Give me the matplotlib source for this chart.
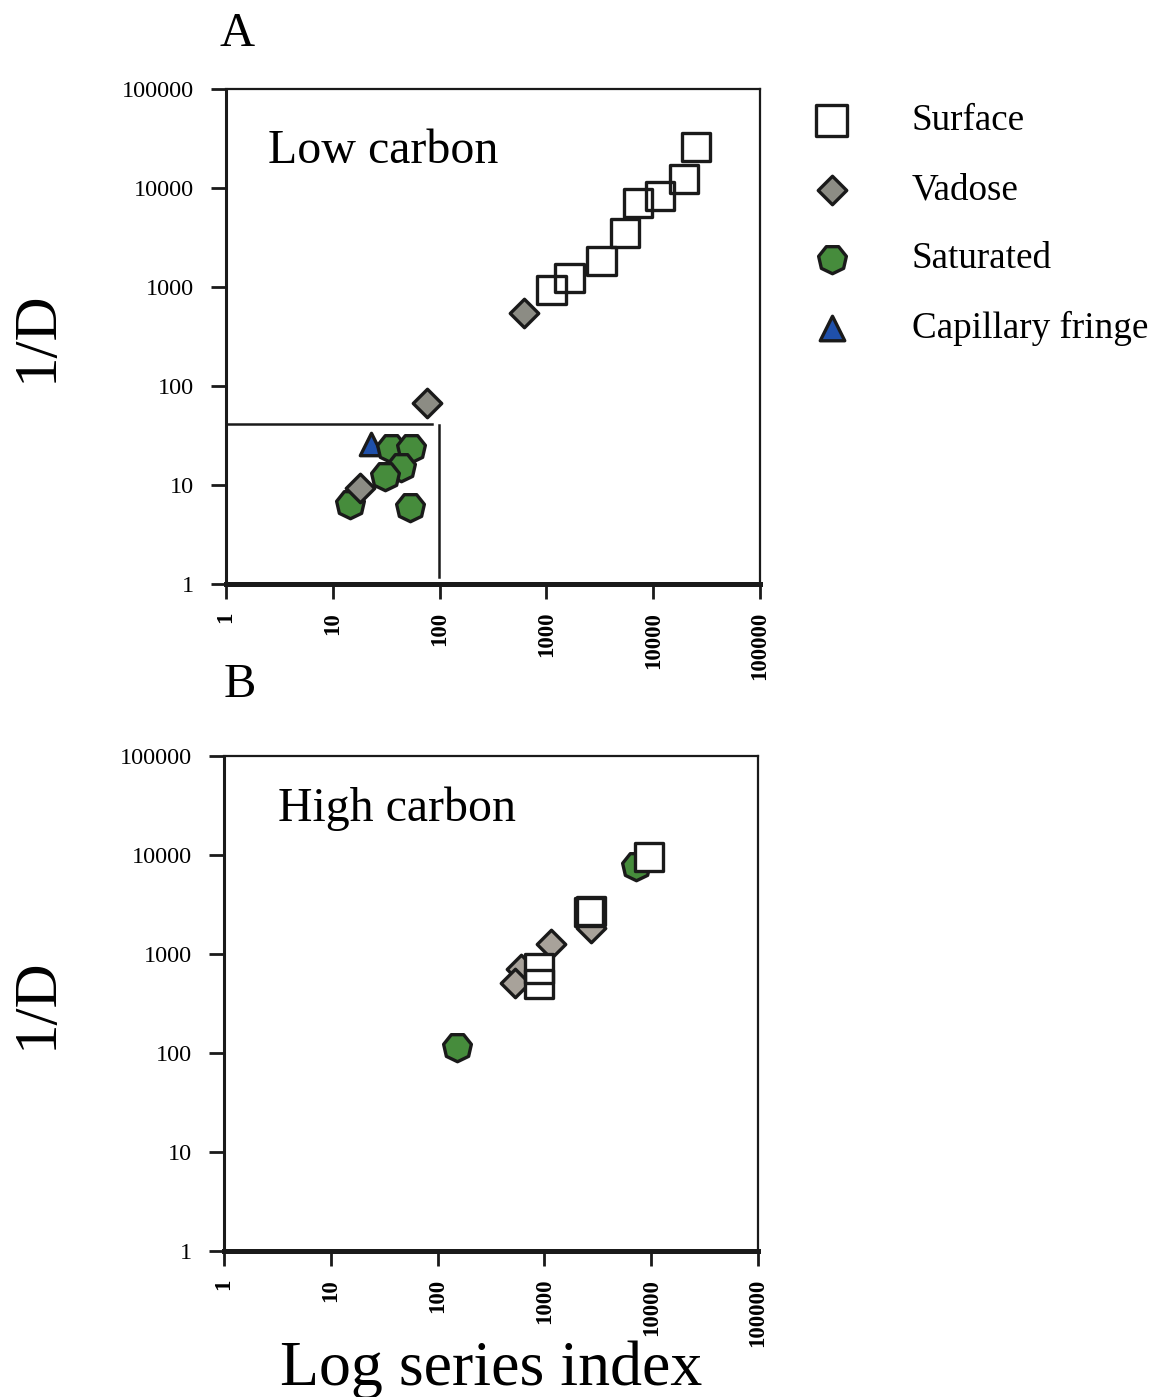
import matplotlib
matplotlib.use("Agg")
import matplotlib.pyplot as plt

plt.rcParams['font.family'] = ['Liberation Serif', 'DejaVu Serif']

# ---------------- data ----------------
# Panel A (Low carbon): (log series index, 1/D)
a_surface_x = [1114, 1640, 3266, 5475, 7240, 11620, 19500, 25200]
a_surface_y = [933, 1236, 1832, 3510, 7050, 8300, 12340, 25950]
a_vadose_x = [622, 77, 17.9]
a_vadose_y = [546, 67, 9.3]
a_saturated_x = [35.4, 54.3, 43.2, 31.0, 14.6, 52.4]
a_saturated_y = [23.5, 23.5, 15.3, 12.3, 6.4, 6.0]
a_capillary_x = [23]
a_capillary_y = [26]
# threshold box in panel A
box_x = 98
box_y = 41

# Panel B (High carbon)
b_surface_x = [9510, 2617, 2731, 892, 892]
b_surface_y = [9570, 2655, 2718, 710, 500]
b_vadose_x = [2710, 1145, 601, 528]
b_vadose_y = [1829, 1271, 710, 508]
b_saturated_x = [151, 7130]
b_saturated_y = [116, 7710]

ticks = [1, 10, 100, 1000, 10000, 100000]
tick_labels = ['1', '10', '100', '1000', '10000', '100000']

legend_labels = ['Surface', 'Vadose', 'Saturated', 'Capillary fringe']

# ---------------- styles ----------------
EDGE = '#1a1a1a'
GREEN = '#468c3c'
GRAY_A = '#8c8c84'
GRAY_B = '#a8a29a'
BLUE = '#1f50aa'
HEPT = (7, 0, 180)

S_SQ = 420
S_DI = 210
S_HE = 420
S_TR = 260
LW = 2.4

W, H = 1151, 1397
fig = plt.figure(figsize=(W / 100, H / 100), dpi=100)


def make_axes(left_px, right_px, top_px, bottom_px):
    ax = fig.add_axes([left_px / W, 1 - bottom_px / H,
                       (right_px - left_px) / W, (bottom_px - top_px) / H])
    ax.set_xscale('log')
    ax.set_yscale('log')
    ax.set_xlim(1, 100000)
    ax.set_ylim(1, 100000)
    ax.set_xticks(ticks)
    ax.set_yticks(ticks)
    ax.minorticks_off()
    ax.set_xticklabels(tick_labels, rotation=90, fontsize=16.5, fontweight='bold',
                       va='top', ha='center')
    ax.set_yticklabels(tick_labels, fontsize=17.5)
    ax.tick_params(axis='both', direction='out', length=11, width=2.0,
                   color=EDGE)
    ax.tick_params(axis='x', pad=9)
    ax.tick_params(axis='y', pad=12)
    for s, lw in (('bottom', 3.6), ('left', 2.2), ('top', 1.6), ('right', 1.6)):
        ax.spines[s].set_linewidth(lw)
        ax.spines[s].set_color(EDGE)
    return ax


def surface(ax, x, y):
    ax.scatter(x, y, marker='s', s=S_SQ, facecolor='white', edgecolor='none',
               zorder=4)
    return ax.scatter(x, y, marker='s', s=S_SQ, facecolor='none',
                      edgecolor=EDGE, linewidth=LW, zorder=5)


# ---------------- Panel A ----------------
axA = make_axes(226, 760, 89, 584)
axA.plot([1, box_x * 0.86], [box_y, box_y], color=EDGE, lw=1.8, zorder=1)
axA.plot([box_x, box_x], [1.18, box_y * 0.98], color=EDGE, lw=1.8, zorder=1)
h_tr = axA.scatter(a_capillary_x, a_capillary_y, marker='^', s=S_TR,
                   facecolor=BLUE, edgecolor=EDGE, linewidth=LW, zorder=2)
h_he = axA.scatter(a_saturated_x, a_saturated_y, marker=HEPT, s=S_HE,
                   facecolor=GREEN, edgecolor=EDGE, linewidth=LW, zorder=3)
h_di = axA.scatter(a_vadose_x, a_vadose_y, marker='D', s=S_DI,
                   facecolor=GRAY_A, edgecolor=EDGE, linewidth=LW, zorder=3.5)
h_sq = surface(axA, a_surface_x, a_surface_y)
axA.text(0.079, 0.874, 'Low carbon', transform=axA.transAxes, fontsize=34.5,
         ha='left', va='center')

# ---------------- Panel B ----------------
axB = make_axes(224, 758, 756, 1251)
axB.scatter(b_saturated_x, b_saturated_y, marker=HEPT, s=S_HE,
            facecolor=GREEN, edgecolor=EDGE, linewidth=LW, zorder=3)
axB.scatter(b_vadose_x, b_vadose_y, marker='D', s=S_DI,
            facecolor=GRAY_B, edgecolor=EDGE, linewidth=LW, zorder=3.5)
surface(axB, b_surface_x, b_surface_y)
axB.text(0.101, 0.893, 'High carbon', transform=axB.transAxes, fontsize=34.5,
         ha='left', va='center')

# ---------------- figure texts ----------------
fig.text(237 / W, 1 - 34 / H, 'A', fontsize=35, ha='center', va='center')
fig.text(240 / W, 1 - 685 / H, 'B', fontsize=35, ha='center', va='center')
fig.text(37 / W, 1 - 336 / H, '1/D', fontsize=44, rotation=90,
         ha='center', va='center')
fig.text(37 / W, 1 - 1003 / H, '1/D', fontsize=44, rotation=90,
         ha='center', va='center')
fig.text(491 / W, 1 - 1385 / H, 'Log series index', fontsize=46,
         ha='center', va='baseline')

# ---------------- legend ----------------
leg = fig.legend([h_sq, h_di, h_he, h_tr], legend_labels,
                 loc='upper left', bbox_to_anchor=(813 / W, 1 - 104 / H),
                 frameon=False, fontsize=26.7, handlelength=1.0,
                 handletextpad=1.66, labelspacing=0.93, borderpad=0,
                 borderaxespad=0, scatterpoints=1)
for hnd, sz in zip(leg.legend_handles, [S_SQ * 1.2, S_DI * 1.0, S_HE * 1.0, S_TR * 1.2]):
    hnd.set_sizes([sz])

fig.savefig('out.png', dpi=100)
